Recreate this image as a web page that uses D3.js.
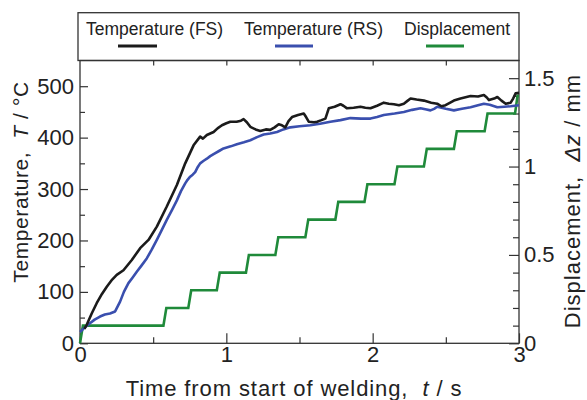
<!DOCTYPE html>
<html><head><meta charset="utf-8">
<script src="https://cdn.jsdelivr.net/npm/d3@7"></script>
<style>body{margin:0;background:#fff}svg{display:block}text{font-family:"Liberation Sans",Arial,Helvetica,sans-serif;fill:#222}</style>
</head><body><svg id="c" width="587" height="400"></svg>
<script>
// ---- data ----
const seriesNames = ["Temperature (FS)", "Temperature (RS)", "Displacement"];
const timeFS = [0.03,0.046,0.08,0.114,0.15,0.183,0.22,0.251,0.297,0.354,0.411,0.468,0.525,0.593,0.662,0.719,0.776,0.821,0.84,0.867,0.89,0.913,0.94,0.97,1.0,1.027,1.07,1.1,1.118,1.14,1.164,1.2,1.232,1.27,1.3,1.33,1.358,1.38,1.403,1.425,1.449,1.49,1.529,1.545,1.563,1.6,1.62,1.65,1.677,1.69,1.7,1.74,1.78,1.8,1.825,1.87,1.917,1.95,1.985,2.03,2.076,2.11,2.145,2.18,2.213,2.24,2.259,2.3,2.35,2.4,2.441,2.47,2.498,2.53,2.555,2.6,2.669,2.72,2.76,2.78,2.795,2.83,2.852,2.88,2.909,2.943,2.96,2.977,3.0];
const tempFS = [28,36,58,78,96,110,124,133,142,162,185,201,227,266,308,350,385,402,398,405,408,411,418,424,428,431,431,433,436,430,421,416,413,416,415,420,426,424,420,432,440,444,447,440,431,430,431,434,437,448,457,460,465,462,457,458,460,458,457,462,468,466,465,463,466,472,476,474,472,468,466,461,463,468,472,476,481,480,483,478,473,476,479,472,466,468,476,486,487];
const timeRS = [0,0.03,0.068,0.1,0.137,0.17,0.205,0.24,0.274,0.3,0.331,0.36,0.388,0.42,0.456,0.49,0.525,0.56,0.593,0.63,0.662,0.69,0.719,0.735,0.753,0.77,0.787,0.805,0.821,0.845,0.867,0.89,0.913,0.95,0.981,1.03,1.072,1.12,1.164,1.21,1.255,1.3,1.346,1.39,1.437,1.5,1.574,1.64,1.711,1.78,1.848,1.92,1.985,2.03,2.076,2.15,2.213,2.27,2.327,2.36,2.395,2.42,2.441,2.5,2.555,2.61,2.669,2.72,2.76,2.8,2.852,2.9,2.943,3.0];
const tempRS = [22,30,39,46,52,56,58,62,81,100,117,128,139,151,165,182,201,221,240,260,278,296,311,318,324,328,333,343,350,355,359,364,368,374,379,383,387,391,395,401,406,408,411,416,420,422,424,427,431,434,438,437,437,440,444,447,450,454,457,455,453,456,460,456,453,456,459,463,466,464,459,460,461,463];
const timeDisp = [0,0.02,0.57,0.59,0.74,0.76,0.935,0.955,1.134,1.154,1.335,1.355,1.54,1.56,1.745,1.765,1.944,1.964,2.149,2.169,2.35,2.37,2.555,2.575,2.765,2.785,2.973,2.99,3.0];
const dispVals = [0,0.1,0.1,0.2,0.2,0.3,0.3,0.4,0.4,0.5,0.5,0.6,0.6,0.7,0.7,0.8,0.8,0.9,0.9,1.0,1.0,1.1,1.1,1.2,1.2,1.3,1.3,1.4,1.4];
const xMajor = [0,1,2,3], xMinor = [0.5,1.5,2.5], xTop = [0.5,1,1.5,2,2.5];
const yLMajor = [0,100,200,300,400,500], yLMinor = [50,150,250,350,450];
const yRMajor = [0,0.5,1,1.5], yRMinor = [0.1,0.2,0.3,0.4,0.6,0.7,0.8,0.9,1.1,1.2,1.3,1.4];
const colors = ["#1b1b1b","#3a4fae","#1f8a3a"];

// ---- layout ----
const L = 80, R = 519, T = 60.5, B = 343.3;
const svg = d3.select("#c");
const x = d3.scaleLinear().domain([0,3]).range([L,R]);
const yL = d3.scaleLinear().domain([0,550]).range([B,T]);
const yR = d3.scaleLinear().domain([0,1.6]).range([B,T]);
const axisColor = "#333";

function styleAxis(g){ g.select(".domain").remove(); g.selectAll(".tick line").attr("stroke",axisColor).attr("stroke-width",1.2); g.selectAll("text").attr("fill","#222").style("font-family",'"Liberation Sans",Arial,sans-serif'); }

svg.append("g").attr("transform",`translate(0,${B})`).call(d3.axisBottom(x).tickValues(xMinor).tickSize(-6).tickFormat("")).call(styleAxis);
svg.append("g").attr("transform",`translate(0,${B})`).call(d3.axisBottom(x).tickValues(xMajor).tickSize(-10).tickPadding(3).tickFormat(d3.format("d"))).call(styleAxis).selectAll("text").style("font-size","22px");
svg.append("g").attr("transform",`translate(0,${T})`).call(d3.axisTop(x).tickValues(xTop).tickSize(-5).tickFormat("")).call(styleAxis);
svg.append("g").attr("transform",`translate(${L},0)`).call(d3.axisLeft(yL).tickValues(yLMinor).tickSize(-5).tickFormat("")).call(styleAxis);
svg.append("g").attr("transform",`translate(${L},0)`).call(d3.axisLeft(yL).tickValues(yLMajor).tickSize(-8).tickPadding(6).tickFormat(d3.format("d"))).call(styleAxis).selectAll("text").style("font-size","22px");
svg.append("g").attr("transform",`translate(${R},0)`).call(d3.axisRight(yR).tickValues(yRMinor).tickSize(-6).tickFormat("")).call(styleAxis);
svg.append("g").attr("transform",`translate(${R},0)`).call(d3.axisRight(yR).tickValues(yRMajor).tickSize(-10).tickPadding(5).tickFormat(d=>String(d))).call(styleAxis).selectAll("text").style("font-size","22px");

svg.append("rect").attr("x",L).attr("y",T).attr("width",R-L).attr("height",B-T).attr("fill","none").attr("stroke",axisColor).attr("stroke-width",1.3);
svg.append("rect").attr("x",78).attr("y",12.7).attr("width",R-78).attr("height",T-12.7).attr("fill","none").attr("stroke",axisColor).attr("stroke-width",1.3);

const lineL = d3.line().x(d=>x(d[0])).y(d=>yL(d[1]));
const lineR = d3.line().x(d=>x(d[0])).y(d=>yR(d[1]));
svg.append("path").datum(d3.zip(timeDisp, dispVals)).attr("d",lineR).attr("fill","none").attr("stroke",colors[2]).attr("stroke-width",2.6);
svg.append("path").datum(d3.zip(timeRS, tempRS)).attr("d",lineL).attr("fill","none").attr("stroke",colors[1]).attr("stroke-width",2.6).attr("stroke-linejoin","round");
svg.append("path").datum(d3.zip(timeFS, tempFS)).attr("d",lineL).attr("fill","none").attr("stroke",colors[0]).attr("stroke-width",2.6).attr("stroke-linejoin","round");

const legText = [86,244,404], legLine = [[118,157],[275,313],[426,464]];
seriesNames.forEach((n,i)=>{
  svg.append("text").attr("x",legText[i]).attr("y",35).style("font-size","17.5px").text(n);
  svg.append("line").attr("x1",legLine[i][0]).attr("x2",legLine[i][1]).attr("y1",46).attr("y2",46).attr("stroke",colors[i]).attr("stroke-width",3);
});

const xt = svg.append("text").attr("x",294).attr("y",396).attr("text-anchor","middle").style("font-size","22px").style("letter-spacing","0.9px");
xt.append("tspan").text("Time from start of welding,\u00a0\u00a0");
xt.append("tspan").style("font-style","italic").text("t");
xt.append("tspan").text(" / s");
const yt = svg.append("text").attr("transform","translate(28,182) rotate(-90)").attr("text-anchor","middle").style("font-size","21px").style("letter-spacing","0.6px");
yt.append("tspan").text("Temperature,\u00a0\u00a0");
yt.append("tspan").style("font-style","italic").text("T");
yt.append("tspan").text(" / °C");
const rt = svg.append("text").attr("transform","translate(580,201) rotate(-90)").attr("text-anchor","middle").style("font-size","22px").style("letter-spacing","1px");
rt.append("tspan").text("Displacement,\u00a0\u00a0");
rt.append("tspan").style("font-style","italic").text("Δz");
rt.append("tspan").text(" / mm");
</script></body></html>
